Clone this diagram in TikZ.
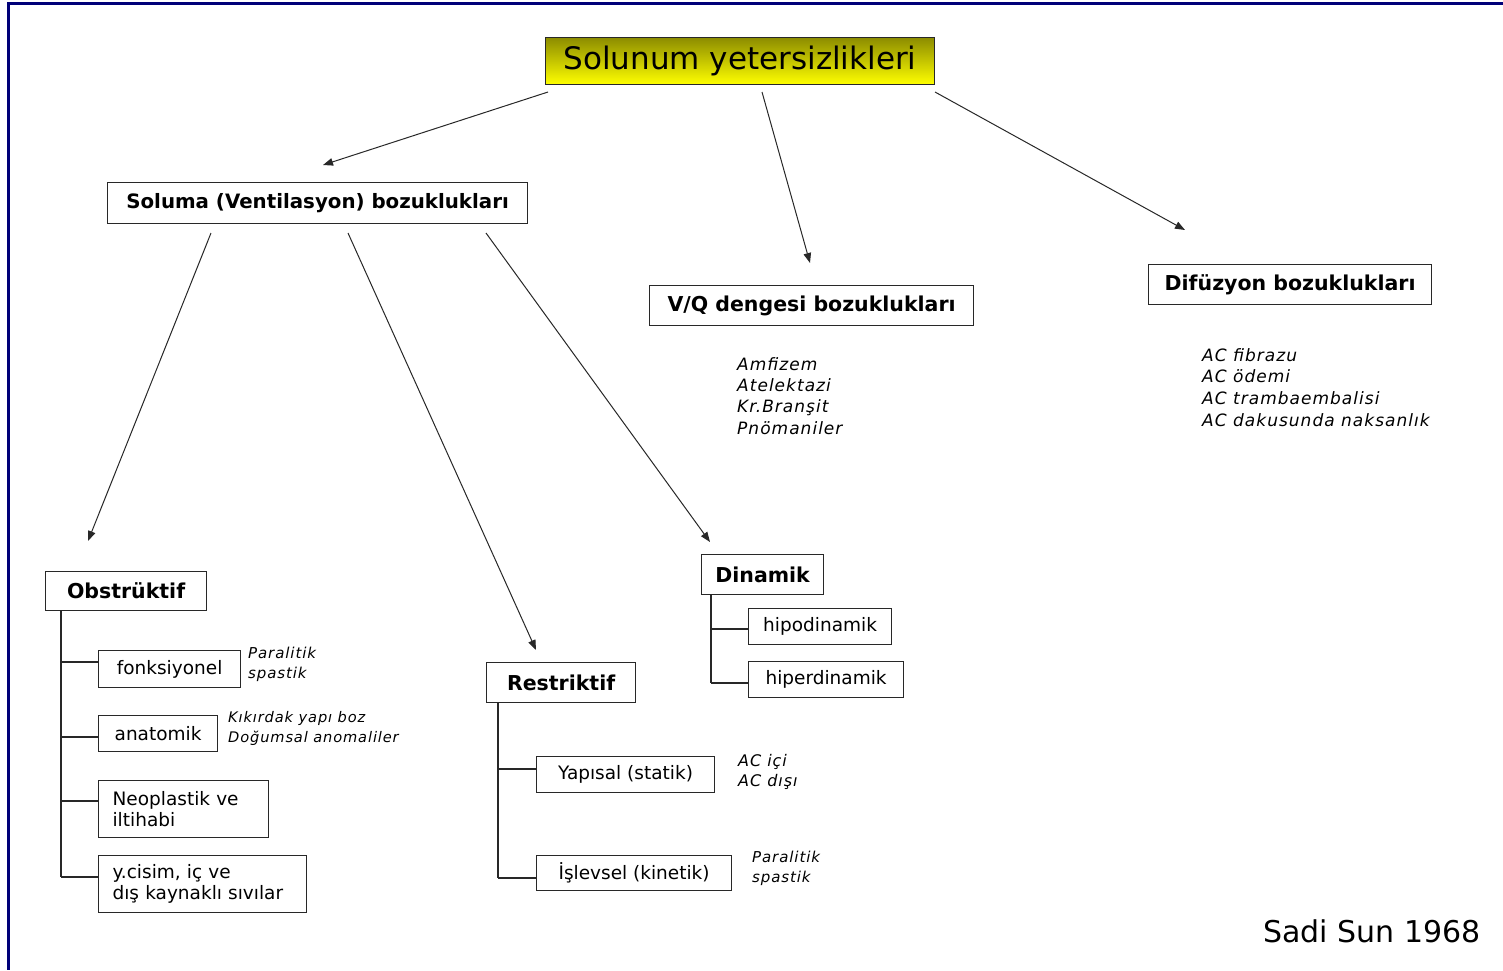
\documentclass[tikz,border=0pt]{standalone}
\usepackage{fontspec}
\setmainfont{DejaVu Sans}
\usetikzlibrary{arrows.meta}
\definecolor{frame}{RGB}{0,0,120}
\definecolor{lineg}{RGB}{40,40,40}
\newcommand{\nfont}[2]{\fontsize{#1}{#2}\selectfont\itshape\addfontfeatures{LetterSpace=6}}
\tikzset{
  box/.style={draw=lineg, line width=1.2pt, fill=white, anchor=north west, inner sep=0pt},
  lbox/.style={box, align=left, text width=#1, inner xsep=14pt},
  hfont/.style={font=\fontsize{20.5}{24}\selectfont\bfseries},
  sfont/.style={font=\fontsize{18.5}{21}\selectfont},
  arr/.style={draw=lineg, line width=1pt, -{Triangle[length=10pt,width=7.5pt]}},
  tree/.style={draw=lineg, line width=1.2pt},
  note/.style={anchor=north west, inner sep=0pt, align=left}
}
\begin{document}
\begin{tikzpicture}[x=1pt,y=-1pt]
\useasboundingbox (0,0) rectangle (1503,970);
\fill[white] (0,0) rectangle (1503,970);
\draw[frame, line width=3pt] (1503,3.5) -- (8.5,3.5) -- (8.5,970);

% title
\node[box, top color=yellow!55!black, bottom color=yellow, minimum width=389pt, minimum height=47pt, font=\fontsize{31}{34}\selectfont] (top) at (545,37) {Solunum yetersizlikleri};

% level 2
\node[box, font=\fontsize{19.8}{24}\selectfont\bfseries, minimum width=420pt, minimum height=41pt] (sol) at (107,182) {Soluma (Ventilasyon) bozuklukları};
\node[box, hfont, minimum width=324pt, minimum height=40pt] (vq) at (649,285) {V/Q dengesi bozuklukları};
\node[box, hfont, minimum width=283pt, minimum height=40pt] (dif) at (1148,264) {Difüzyon bozuklukları};

% level 3
\node[box, hfont, minimum width=161pt, minimum height=39pt] (obs) at (45,571) {Obstrüktif};
\node[box, hfont, minimum width=149pt, minimum height=40pt] (res) at (486,662) {Restriktif};
\node[box, hfont, minimum width=122pt, minimum height=40pt] (din) at (701,554) {Dinamik};

% dinamik children
\node[box, sfont, minimum width=143pt, minimum height=36pt] (hipo) at (748,608) {hipodinamik};
\node[box, sfont, minimum width=155pt, minimum height=36pt] (hiper) at (748,661) {hiperdinamik};

% obstruktif children
\node[box, sfont, minimum width=142pt, minimum height=37pt] (fonk) at (98,650) {fonksiyonel};
\node[box, sfont, minimum width=119pt, minimum height=36pt] (ana) at (98,715) {anatomik};
\node[box, lbox=142pt, minimum height=57pt, font=\fontsize{18.5}{21}\selectfont] (neo) at (98,780) {Neoplastik ve\\iltihabi};
\node[box, lbox=180pt, minimum height=57pt, font=\fontsize{18.5}{21}\selectfont] (ycis) at (98,855) {y.cisim, iç ve\\dış kaynaklı sıvılar};

% restriktif children
\node[box, sfont, minimum width=178pt, minimum height=36pt] (yap) at (536,756) {Yapısal (statik)};
\node[box, sfont, minimum width=195pt, minimum height=35pt] (isl) at (536,855) {İşlevsel (kinetik)};

% notes
\node[note, font=\nfont{15}{20}] (n1) at (248,647) {Paralitik\\spastik};
\node[note, font=\nfont{14.6}{20}] (n2) at (228,711) {Kıkırdak yapı boz\\Doğumsal anomaliler};
\node[note, font=\nfont{16}{20}] (n3) at (738,754) {AC içi\\AC dışı};
\node[note, font=\nfont{15}{20}] (n4) at (752,851) {Paralitik\\spastik};
\node[note, font=\nfont{17}{21.3}] (n5) at (737,357) {Amfizem\\Atelektazi\\Kr.Branşit\\Pnömaniler};
\node[note, font=\nfont{17}{21.7}] (n6) at (1202,348) {AC fibrazu\\AC ödemi\\AC trambaembalisi\\AC dakusunda naksanlık};

\node[anchor=west, inner sep=0pt, font=\fontsize{30}{34}\selectfont] (sig) at (1263,931) {Sadi Sun 1968};

% arrows
\coordinate (a1s) at (548,92); \coordinate (a1e) at (323,165);
\coordinate (a2s) at (762,92); \coordinate (a2e) at (810,263);
\coordinate (a3s) at (935,92); \coordinate (a3e) at (1185,230);
\coordinate (b1s) at (211,233); \coordinate (b1e) at (88,541);
\coordinate (b2s) at (348,233); \coordinate (b2e) at (536,650);
\coordinate (b3s) at (486,233); \coordinate (b3e) at (710,542);
\draw[arr] (a1s) -- (a1e);
\draw[arr] (a2s) -- (a2e);
\draw[arr] (a3s) -- (a3e);
\draw[arr] (b1s) -- (b1e);
\draw[arr] (b2s) -- (b2e);
\draw[arr] (b3s) -- (b3e);

% tree lines
\draw[tree] (61,610) -- (61,877);
\draw[tree] (61,662) -- (fonk.west |- 0,662);
\draw[tree] (61,737) -- (ana.west |- 0,737);
\draw[tree] (61,801) -- (neo.west |- 0,801);
\draw[tree] (61,877) -- (ycis.west |- 0,877);
\draw[tree] (498,702) -- (498,878);
\draw[tree] (498,769) -- (yap.west |- 0,769);
\draw[tree] (498,878) -- (isl.west |- 0,878);
\draw[tree] (711,594) -- (711,683);
\draw[tree] (711,629) -- (hipo.west |- 0,629);
\draw[tree] (711,683) -- (hiper.west |- 0,683);
\end{tikzpicture}
\end{document}
